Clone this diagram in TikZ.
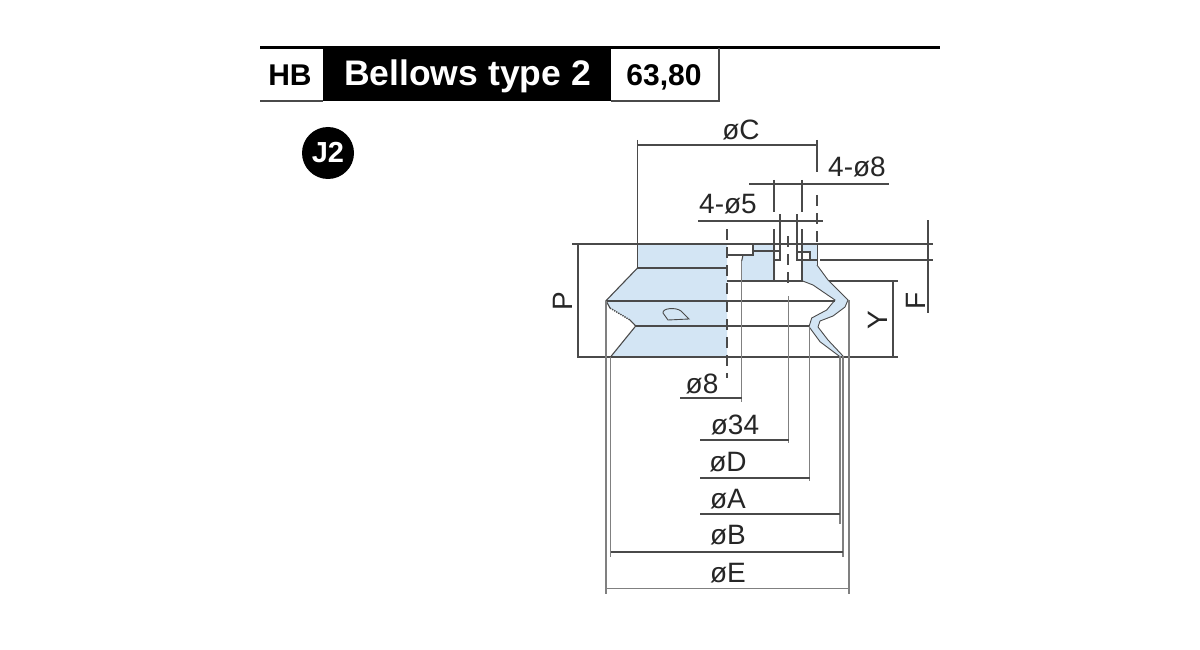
\documentclass[tikz,border=0pt]{standalone}
\usepackage{fontspec}
\setmainfont{Liberation Sans}
\definecolor{cad}{HTML}{4A4A4A}
\definecolor{cadg}{HTML}{808080}
\definecolor{blueb}{HTML}{D3E5F4}
\tikzset{
  thinl/.style={draw=cad,line width=1.05pt},
  greyl/.style={draw=cadg,line width=1.5pt},
  dashl/.style={draw=cad,line width=1.1pt,dash pattern=on 11pt off 7pt},
  lbl/.style={font=\fontsize{28}{28}\selectfont,text=black!85,inner sep=0pt},
  hdr/.style={font=\bfseries\fontsize{30}{30}\selectfont,inner sep=0pt,anchor=base},
}
\begin{document}
\begin{tikzpicture}[x=1pt,y=-1pt]
\useasboundingbox[fill=white] (0,0) rectangle (1200,650);
% header
\fill[black] (323,47) rectangle (611,101);
\draw[black,line width=2.6pt] (260,47.5) -- (940,47.5);
\draw[cad,line width=1.4pt] (260,101) -- (323,101);
\draw[cad,line width=1.4pt] (611,101) -- (719,101) -- (719,48);
\node[hdr] (hb) at (290,85.5) {HB};
\node[hdr,text=white,font=\bfseries\fontsize{35.5}{36}\selectfont] (title) at (467.5,85.5) {Bellows type 2};
\node[hdr] (size) at (664,85.5) {63,80};
\node[circle,fill=black,minimum size=52pt,inner sep=0pt,text=white,font=\bfseries\fontsize{29}{29}\selectfont] (j2) at (328,153) {J2};
% blue fills
\fill[blueb] (637.5,244) -- (727,244) -- (727,357) -- (610.5,357) -- (635.7,326) -- (630,320) -- (610,308) -- (606,300.7) -- (637,268) -- cycle;
\fill[blueb] (753,245) -- (775,245) -- (775,281) -- (741.7,281) -- (741.7,260) -- (743,255) -- (753,255) -- cycle;
\fill[blueb] (802.7,245) -- (817,245) -- (817,265) -- (828,280) -- (848,300) -- (845,307) -- (833,316) -- (820,321) -- (818,327) -- (828,340) -- (843,356) -- (840,356.7) -- (820,341.7) -- (809,326.7) -- (811.7,318) -- (826.7,310) -- (835,300) -- (813,285) -- (802.7,281) -- cycle;
\fill[white] (797,252) rectangle (810,260);
% profile
\draw[cad,line width=1.1pt] (637.5,268) -- (606,300.7) -- (610,308);
\draw[cad,line width=1.4pt,densely dotted] (610,308) -- (630,320);
\draw[cad,line width=1.1pt] (630,320) -- (635.7,326) -- (610.5,357);
\draw[cad,line width=0.9pt] (817,265) -- (828,280) -- (848,300) -- (845,307) -- (833,316) -- (820,321) -- (818,327) -- (828,340) -- (843,356);
\draw[cad,line width=0.9pt] (802.7,281) -- (813,285) -- (835,300) -- (826.7,310) -- (811.7,318) -- (809,326.7) -- (820,341.7) -- (840,356.7);
\draw[cad,line width=1pt] (817,245) -- (817,265);
% section lines
\draw[thinl] (572,244) -- (933,244);
\draw[thinl] (820,260) -- (933,260);
\draw[thinl,line width=1.4pt] (637,268) -- (727,268);
\draw[thinl] (606,301) -- (835,301);
\draw[thinl] (636,326) -- (810,326);
\draw[thinl] (727,281) -- (802.7,281);
\draw[thinl] (829,281) -- (898,281);
\draw[thinl] (577,357) -- (898,357);
\draw[cad,line width=1.7pt] (610.5,357) -- (727,357);
% counterbore details
\draw[thinl] (727,255) -- (753,255) -- (753,245);
\draw[thinl,line width=1.2pt] (753,251) -- (780,251);
\draw[thinl] (743,255) -- (741.7,261);
\draw[thinl] (797,252) -- (810,252) -- (810,260);
\draw[thinl] (797,260) -- (817,260);
\draw[thinl] (775,260) -- (780,260);
% slot
\draw[cad,line width=0.9pt,fill=blueb] (663,313) .. controls (662,308) and (676,307) .. (681,311) -- (689,319) -- (668,320) -- cycle;
% verticals
\draw[thinl] (637.5,140) -- (637.5,268);
\draw[thinl] (817,140) -- (817,172);
\draw[dashl] (817,195) -- (817,245);
\draw[thinl] (774,180) -- (774,212);
\draw[thinl] (774,229) -- (774,281);
\draw[thinl] (802,180) -- (802,212);
\draw[thinl] (802,229) -- (802,281);
\draw[thinl] (780,214) -- (780,261);
\draw[thinl] (797,214) -- (797,261);
\draw[dashl] (788,236) -- (788,290);
\draw[dashl,line width=1.4pt] (727,229) -- (727,378);
\draw[thinl] (578,244) -- (578,357);
\draw[thinl] (893,281) -- (893,357);
\draw[thinl] (928,220) -- (928,313);
\draw[greyl] (606,301) -- (606,594);
\draw[greyl] (610.5,357) -- (610.5,557);
\draw[greyl] (849,300) -- (849,594);
\draw[greyl] (843,356) -- (843,557);
\draw[greyl] (840,356) -- (840,524);
\draw[greyl] (809.5,326) -- (809.5,481);
\draw[greyl] (788.5,296) -- (788.5,443);
\draw[greyl] (741.7,261) -- (741.7,402);
% dimension lines
\draw[thinl] (637.5,145) -- (817,145);
\draw[thinl] (749,184) -- (889,184);
\draw[thinl] (698,221) -- (823,221);
\draw[thinl] (680,398) -- (742,398);
\draw[thinl] (700,440) -- (789,440);
\draw[thinl] (700,478) -- (810,478);
\draw[thinl] (700,514) -- (840,514);
\draw[thinl,line width=1.3pt] (610.5,552) -- (843,552);
\draw[draw=cadg,line width=1pt] (606,588) -- (849,588);
% labels
\node[lbl] (oc) at (741,130) {øC};
\node[lbl] (f8) at (857,167) {4-ø8};
\node[lbl] (f5) at (728,204) {4-ø5};
\node[lbl,rotate=90] (p) at (563,301) {P};
\node[lbl,rotate=90] (f) at (916,301) {F};
\node[lbl,rotate=90] (y) at (878,320) {Y};
\node[lbl] (o8) at (702,384) {ø8};
\node[lbl] (o34) at (735,425) {ø34};
\node[lbl] (od) at (728,462) {øD};
\node[lbl] (oa) at (728,499) {øA};
\node[lbl] (ob) at (728,535) {øB};
\node[lbl] (oe) at (728,573) {øE};
\end{tikzpicture}
\end{document}
